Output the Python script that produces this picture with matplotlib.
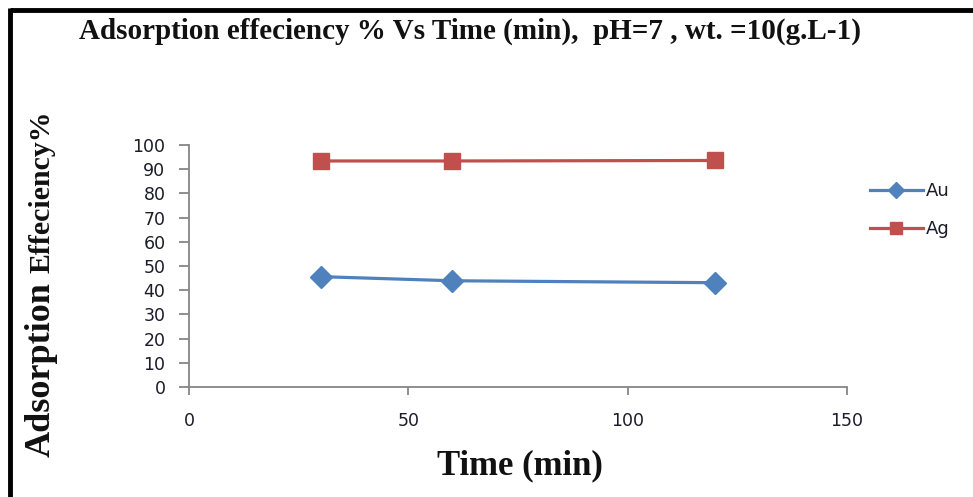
import matplotlib
matplotlib.use("Agg")
import matplotlib.pyplot as plt
from matplotlib.lines import Line2D

# Data
time_min = [30, 60, 120]
au_eff = [45.6, 43.9, 43.1]
ag_eff = [93.4, 93.4, 93.6]
x_ticks = [0, 50, 100, 150]
y_ticks = list(range(0, 101, 10))

W, H = 973, 497
fig = plt.figure(figsize=(W / 100, H / 100), dpi=100)
fig.patch.set_facecolor("white")

# axes placement (pixels)
L, R, T, B = 189, 847, 145, 387
ax = fig.add_axes([L / W, 1 - B / H, (R - L) / W, (B - T) / H])

blue = "#4F81BD"
red = "#C0504D"
ax.plot(time_min, au_eff, color=blue, lw=2.3, marker="D", ms=11.5,
        markeredgecolor=blue, markerfacecolor=blue, label="Au", clip_on=False)
ax.plot(time_min, ag_eff, color=red, lw=2.3, marker="s", ms=12,
        markeredgecolor=red, markerfacecolor=red, label="Ag", clip_on=False)

ax.set_xlim(0, 150)
ax.set_ylim(0, 100)
ax.set_xticks(x_ticks)
ax.set_yticks(y_ticks)
for s in ["top", "right"]:
    ax.spines[s].set_visible(False)
for s in ["left", "bottom"]:
    ax.spines[s].set_color("#868686")
    ax.spines[s].set_linewidth(1.3)
ax.tick_params(axis="y", direction="out", length=7, width=1.3, color="#868686",
               labelsize=12.5, labelcolor="#1c1c2a", pad=10)
ax.tick_params(axis="x", direction="out", length=6, width=1.3, color="#868686",
               labelsize=12.5, labelcolor="#1c1c2a", pad=12)
for lab in ax.get_xticklabels() + ax.get_yticklabels():
    lab.set_family("DejaVu Sans")

leg = ax.legend(loc="upper left", bbox_to_anchor=((863 - L) / (R - L), 1 - (175 - T) / (B - T)),
                frameon=False, fontsize=13, handlelength=2.9, handletextpad=0.2,
                labelspacing=1.1, markerscale=0.75, borderaxespad=0)
for t in leg.get_texts():
    t.set_color("#1c1c2a")

# Title
fig.text(470 / W, 1 - 31 / H,
         "Adsorption effeciency % Vs Time (min),  pH=7 , wt. =10(g.L-1)",
         ha="center", va="center", family="Liberation Serif", weight="bold",
         fontsize=21, color="#111111")

# X label
fig.text(520 / W, 1 - 466 / H, "Time (min)", ha="center", va="center",
         family="Liberation Serif", weight="bold", fontsize=25, color="#111111")

# Y label (two sizes)
fig.text(50 / W, 1 - 457 / H, "Adsorption", rotation=90, rotation_mode="anchor",
         ha="left", va="baseline", family="Liberation Serif", weight="bold",
         fontsize=26, color="#111111")
fig.text(50 / W, 1 - 273 / H, "Effeciency%", rotation=90, rotation_mode="anchor",
         ha="left", va="baseline", family="Liberation Serif", weight="bold",
         fontsize=21.5, color="#111111")

# Border lines (top and left)
fig.add_artist(Line2D([10 / W, 1.0], [1 - 10 / H, 1 - 10 / H], color="black",
                      lw=3.5, transform=fig.transFigure, solid_capstyle="butt"))
fig.add_artist(Line2D([10 / W, 10 / W], [0, 1 - 8 / H], color="black",
                      lw=3.5, transform=fig.transFigure, solid_capstyle="butt"))

fig.savefig("out.png", dpi=100, facecolor="white")
